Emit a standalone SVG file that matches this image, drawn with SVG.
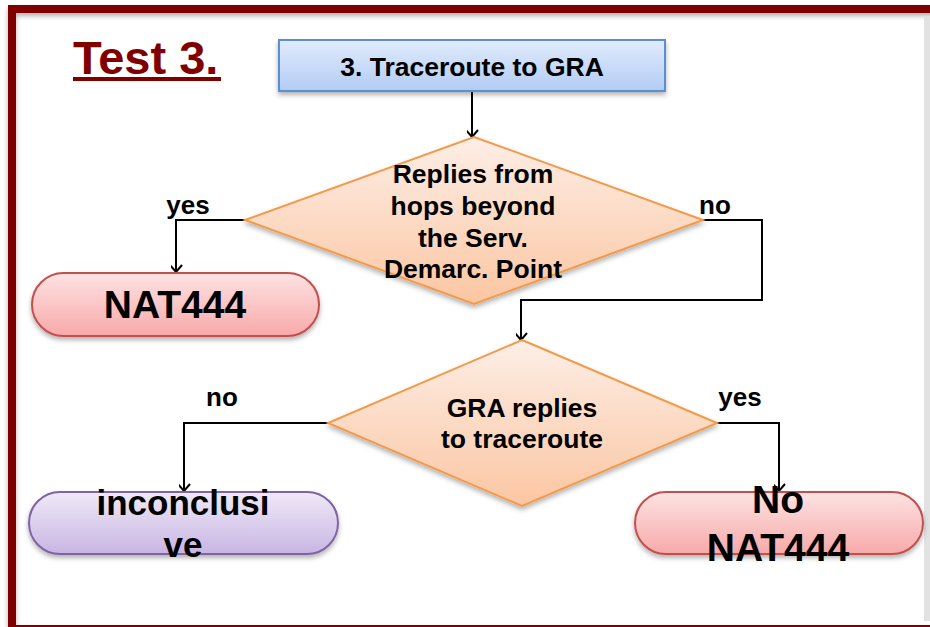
<svg xmlns="http://www.w3.org/2000/svg" width="930" height="627" viewBox="0 0 930 627">
  <defs>
    <linearGradient id="gBlue" x1="0" y1="0" x2="0" y2="1">
      <stop offset="0" stop-color="#e1ecfc"/>
      <stop offset="1" stop-color="#b2cbf4"/>
    </linearGradient>
    <linearGradient id="gOrange" x1="0" y1="0" x2="0" y2="1">
      <stop offset="0" stop-color="#fdeee6"/>
      <stop offset="1" stop-color="#fbc6a2"/>
    </linearGradient>
    <linearGradient id="gRed" x1="0" y1="0" x2="0" y2="1">
      <stop offset="0" stop-color="#fde3e3"/>
      <stop offset="1" stop-color="#f8a9a9"/>
    </linearGradient>
    <linearGradient id="gPurple" x1="0" y1="0" x2="0" y2="1">
      <stop offset="0" stop-color="#efe9f7"/>
      <stop offset="1" stop-color="#c8b5e3"/>
    </linearGradient>
    <filter id="shadow" x="-10%" y="-10%" width="120%" height="130%">
      <feDropShadow dx="0" dy="3" stdDeviation="2.5" flood-color="#000" flood-opacity="0.3"/>
    </filter>
    <marker id="arrow" markerUnits="userSpaceOnUse" markerWidth="16" markerHeight="16" viewBox="-8 -10 16 14" refX="0" refY="0" orient="auto-start-reverse">
      <path d="M-7,-6 L0,0 L-7,6" fill="none" stroke="#000" stroke-width="2"/>
    </marker>
    <style>
      .lbl { font-family: "Liberation Sans", Arial, sans-serif; font-weight: bold; fill: #000; text-anchor: middle; }
      .conn { fill: none; stroke: #000; stroke-width: 2; marker-end: url(#arrow); }
      .nodeShape { filter: url(#shadow); }
    </style>
  </defs>

  <rect width="930" height="627" fill="#ffffff"/>

  <!-- outer frame -->
  <rect x="12" y="9" width="950" height="620" fill="none" stroke="#800000" stroke-width="8" filter="url(#shadow)"/>
  <rect x="924" y="16" width="6" height="605" fill="#e2e2e2"/>

  <!-- title -->
  <g id="title">
    <text x="73" y="74" font-family="Liberation Sans, Arial, sans-serif" font-weight="bold" font-size="47" fill="#800000">Test 3.</text>
    <line x1="73" y1="79" x2="221" y2="79" stroke="#800000" stroke-width="4"/>
  </g>

  <!-- connectors -->
  <g id="connectors">
    <path class="conn" d="M472,91 L472,137"/>
    <path class="conn" d="M245,220 L176,220 L176,272"/>
    <path class="conn" d="M703,220 L762,220 L762,300 L521,300 L521,340"/>
    <path class="conn" d="M328,423 L184,423 L184,491"/>
    <path class="conn" d="M717,423 L779,423 L779,491"/>
    <text class="lbl" x="188" y="214" font-size="26">yes</text>
    <text class="lbl" x="715" y="214" font-size="26">no</text>
    <text class="lbl" x="222" y="406" font-size="26">no</text>
    <text class="lbl" x="740" y="406" font-size="26">yes</text>
  </g>

  <g id="start">
    <rect class="nodeShape" x="279" y="40" width="386" height="51" fill="url(#gBlue)" stroke="#5b8fd0" stroke-width="2"/>
    <text class="lbl" x="472" y="76" font-size="26.5">3. Traceroute to GRA</text>
  </g>

  <g id="decision1">
    <polygon class="nodeShape" points="474,137 703,220 474,304 245,220" fill="url(#gOrange)" stroke="#f39a4a" stroke-width="2"/>
    <text class="lbl" x="473" y="183" font-size="26.5">Replies from</text>
    <text class="lbl" x="473" y="215" font-size="26.5">hops beyond</text>
    <text class="lbl" x="473" y="247" font-size="26.5">the Serv.</text>
    <text class="lbl" x="473" y="278" font-size="26.5">Demarc. Point</text>
  </g>

  <g id="nat444">
    <rect class="nodeShape" x="32" y="273" width="287" height="63" rx="31.5" fill="url(#gRed)" stroke="#c0504d" stroke-width="2"/>
    <text class="lbl" x="175" y="318" font-size="39">NAT444</text>
  </g>

  <g id="decision2">
    <polygon class="nodeShape" points="522,340 717,423 522,506 328,423" fill="url(#gOrange)" stroke="#f39a4a" stroke-width="2"/>
    <text class="lbl" x="522" y="417" font-size="26.5">GRA replies</text>
    <text class="lbl" x="522" y="448" font-size="26.5">to traceroute</text>
  </g>

  <g id="inconclusive">
    <rect class="nodeShape" x="29" y="492" width="309" height="62" rx="31" fill="url(#gPurple)" stroke="#8064a2" stroke-width="2"/>
    <text class="lbl" x="183" y="515" font-size="35">inconclusi</text>
    <text class="lbl" x="183" y="557" font-size="35">ve</text>
  </g>

  <g id="noNat444">
    <rect class="nodeShape" x="635" y="492" width="288" height="62" rx="31" fill="url(#gRed)" stroke="#c0504d" stroke-width="2"/>
    <text class="lbl" x="778" y="513" font-size="39">No</text>
    <text class="lbl" x="778" y="561" font-size="39">NAT444</text>
  </g>
</svg>
